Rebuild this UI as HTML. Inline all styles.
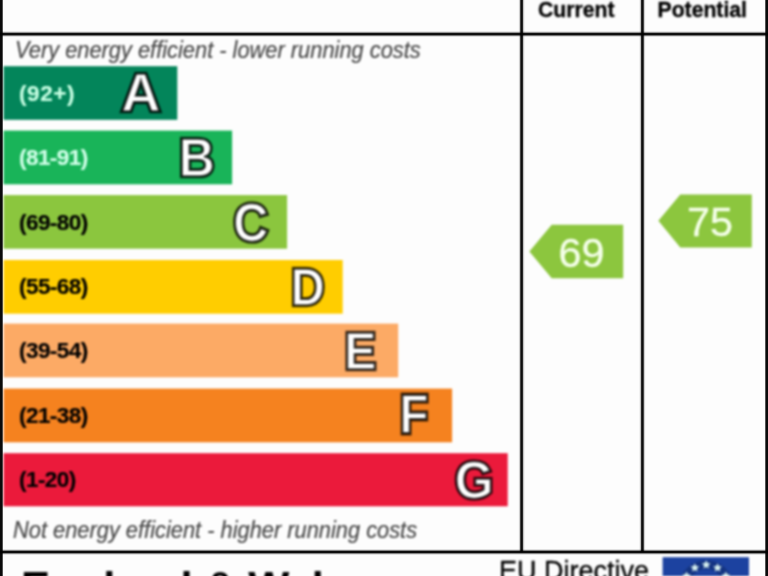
<!DOCTYPE html>
<html><head><meta charset="utf-8">
<style>
html,body{margin:0;padding:0;background:#fdfdfd;}
body{width:768px;height:576px;overflow:hidden;position:relative;font-family:"Liberation Sans",sans-serif;}
svg{position:absolute;left:0;top:0;}
.t{position:absolute;white-space:nowrap;line-height:1;}
.rng{position:absolute;left:19px;font-size:22.5px;letter-spacing:-0.55px;-webkit-text-stroke:0.2px currentColor;font-weight:bold;white-space:nowrap;line-height:1;}
.let{position:absolute;font-size:52px;font-weight:bold;color:#fff;-webkit-text-stroke:4.6px rgba(0,0,0,.72);paint-order:stroke fill;line-height:1;transform:scaleX(0.96);transform-origin:50% 50%;}
.let span{position:absolute;left:0;top:0;-webkit-text-stroke:1.7px rgba(0,0,0,.72);paint-order:normal;}
.it{position:absolute;font-style:italic;font-size:23.5px;transform:scaleX(0.929);transform-origin:0 0;color:#484848;-webkit-text-stroke:0.2px #484848;white-space:nowrap;line-height:1;}
.hd{position:absolute;top:-0.8px;font-size:21.2px;font-weight:bold;color:#000;-webkit-text-stroke:0.3px #000;line-height:1;}
#w{position:absolute;left:0;top:0;width:768px;height:576px;background:#fdfdfd;filter:blur(0.9px);}
</style></head><body><div id="w">
<svg width="768" height="576">

<rect x="3.5" y="66.2" width="173.8" height="53.6" fill="#03855a"/>
<rect x="3.5" y="130.6" width="228.6" height="53.7" fill="#19b459"/>
<rect x="3.5" y="195.1" width="283.6" height="53.6" fill="#8bc63e"/>
<rect x="3.5" y="260" width="339.2" height="53.7" fill="#ffcd00"/>
<rect x="3.5" y="323.6" width="394.7" height="53.7" fill="#fcaa65"/>
<rect x="3.5" y="388.6" width="448.6" height="53.7" fill="#f5821f"/>
<rect x="3.5" y="453.2" width="504.2" height="53.1" fill="#eb1a3b"/>
<polygon points="529.4,251.5 551.7,224.8 623.2,224.8 623.2,278.2 551.7,278.2" fill="#8cc63e"/>
<polygon points="658.4,220.8 680.3,194.6 751.8,194.6 751.8,247.5 680.3,247.5" fill="#8cc63e"/>
</svg>

<div class="hd" style="left:538px">Current</div>
<div class="hd" style="left:657.5px">Potential</div>

<div class="it" style="left:14.8px;top:38.5px">Very energy efficient - lower running costs</div>

<div class="rng" style="top:83px;color:#c8ffe4;letter-spacing:0.6px">(92+)</div>
<div class="rng" style="top:147px;color:#d0ffe8">(81-91)</div>
<div class="rng" style="top:212px;color:#000">(69-80)</div>
<div class="rng" style="top:276px;color:#000">(55-68)</div>
<div class="rng" style="top:340px;color:#000">(39-54)</div>
<div class="rng" style="top:405px;color:#000">(21-38)</div>
<div class="rng" style="top:469px;color:#000">(1-20)</div>

<div class="let" style="left:122.2px;top:67.3px;transform:scale(1.045,1.02)">A<span>A</span></div>
<div class="let" style="left:178.3px;top:131.6px;transform:scale(0.96,1.02)">B<span>B</span></div>
<div class="let" style="left:232.4px;top:196.5px;transform:scale(0.935,1.02)">C<span>C</span></div>
<div class="let" style="left:288.8px;top:260.9px;transform:scaleX(0.905)">D<span>D</span></div>
<div class="let" style="left:343.1px;top:324.7px;transform:scaleX(0.925)">E<span>E</span></div>
<div class="let" style="left:397.8px;top:388px;transform:scale(0.91,1.06)">F<span>F</span></div>
<div class="let" style="left:453.8px;top:454px">G<span>G</span></div>

<div class="it" style="left:13.3px;top:518.5px">Not energy efficient - higher running costs</div>

<div class="t" style="left:558.5px;top:232.7px;font-size:41.3px;color:#f4ffe8;-webkit-text-stroke:0.4px #f4ffe8">69</div>
<div class="t" style="left:687px;top:201.5px;font-size:41.3px;color:#f4ffe8;-webkit-text-stroke:0.4px #f4ffe8">75</div>

<div class="t" style="left:21px;top:567px;font-size:43.5px;font-weight:bold;color:#000">England &amp; Wales</div>
<div class="t" style="left:499px;top:558px;font-size:27px;color:#000;-webkit-text-stroke:0.3px #000">EU Directive</div>
<svg width="768" height="576">
<rect x="662.6" y="557.2" width="86.4" height="57.6" fill="#1c42a0"/><circle cx="706.2" cy="587.5" r="22.7" fill="none" stroke="#0f2a6a" stroke-width="9" opacity=".55"/><g fill="#d8f2f0"><polygon points="706.20,560.20 707.49,563.02 710.57,563.38 708.29,565.48 708.90,568.52 706.20,567.00 703.50,568.52 704.11,565.48 701.83,563.38 704.91,563.02"/><polygon points="717.55,563.24 718.84,566.06 721.92,566.42 719.64,568.52 720.25,571.56 717.55,570.04 714.85,571.56 715.46,568.52 713.18,566.42 716.26,566.06"/><polygon points="725.86,571.55 727.15,574.37 730.23,574.73 727.95,576.83 728.56,579.87 725.86,578.35 723.15,579.87 723.77,576.83 721.48,574.73 724.57,574.37"/><polygon points="728.90,582.90 730.19,585.72 733.27,586.08 730.99,588.18 731.60,591.22 728.90,589.70 726.20,591.22 726.81,588.18 724.53,586.08 727.61,585.72"/><polygon points="725.86,594.25 727.15,597.07 730.23,597.43 727.95,599.53 728.56,602.57 725.86,601.05 723.15,602.57 723.77,599.53 721.48,597.43 724.57,597.07"/><polygon points="717.55,602.56 718.84,605.38 721.92,605.74 719.64,607.84 720.25,610.88 717.55,609.36 714.85,610.88 715.46,607.84 713.18,605.74 716.26,605.38"/><polygon points="706.20,605.60 707.49,608.42 710.57,608.78 708.29,610.88 708.90,613.92 706.20,612.40 703.50,613.92 704.11,610.88 701.83,608.78 704.91,608.42"/><polygon points="694.85,602.56 696.14,605.38 699.22,605.74 696.94,607.84 697.55,610.88 694.85,609.36 692.15,610.88 692.76,607.84 690.48,605.74 693.56,605.38"/><polygon points="686.54,594.25 687.83,597.07 690.92,597.43 688.63,599.53 689.25,602.57 686.54,601.05 683.84,602.57 684.45,599.53 682.17,597.43 685.25,597.07"/><polygon points="683.50,582.90 684.79,585.72 687.87,586.08 685.59,588.18 686.20,591.22 683.50,589.70 680.80,591.22 681.41,588.18 679.13,586.08 682.21,585.72"/><polygon points="686.54,571.55 687.83,574.37 690.92,574.73 688.63,576.83 689.25,579.87 686.54,578.35 683.84,579.87 684.45,576.83 682.17,574.73 685.25,574.37"/><polygon points="694.85,563.24 696.14,566.06 699.22,566.42 696.94,568.52 697.55,571.56 694.85,570.04 692.15,571.56 692.76,568.52 690.48,566.42 693.56,566.06"/></g>
</svg>
</div>
<svg width="768" height="576" style="overflow:visible">
<defs>
<linearGradient id="gv" x1="0" y1="0" x2="1" y2="0"><stop offset="0" stop-color="#000" stop-opacity="0"/><stop offset=".2" stop-color="#000" stop-opacity=".2"/><stop offset=".36" stop-color="#000" stop-opacity=".85"/><stop offset=".42" stop-color="#000" stop-opacity=".95"/><stop offset=".58" stop-color="#000" stop-opacity=".95"/><stop offset=".64" stop-color="#000" stop-opacity=".85"/><stop offset=".8" stop-color="#000" stop-opacity=".2"/><stop offset="1" stop-color="#000" stop-opacity="0"/></linearGradient>
<linearGradient id="gh" x1="0" y1="0" x2="0" y2="1"><stop offset="0" stop-color="#000" stop-opacity="0"/><stop offset=".2" stop-color="#000" stop-opacity=".2"/><stop offset=".36" stop-color="#000" stop-opacity=".85"/><stop offset=".42" stop-color="#000" stop-opacity=".95"/><stop offset=".58" stop-color="#000" stop-opacity=".95"/><stop offset=".64" stop-color="#000" stop-opacity=".85"/><stop offset=".8" stop-color="#000" stop-opacity=".2"/><stop offset="1" stop-color="#000" stop-opacity="0"/></linearGradient>
</defs>
<rect x="-2" y="0" width="4.7" height="576" fill="#0a0a0a"/>
<rect x="765.3" y="0" width="5" height="576" fill="#0a0a0a"/>
<rect x="0" y="30.85" width="768" height="6.5" fill="url(#gh)"/>
<rect x="0" y="548.75" width="768" height="6.5" fill="url(#gh)"/>
<rect x="518.35" y="0" width="6.5" height="552" fill="url(#gv)"/>
<rect x="639.15" y="0" width="6.5" height="552" fill="url(#gv)"/>
</svg>
</body></html>
